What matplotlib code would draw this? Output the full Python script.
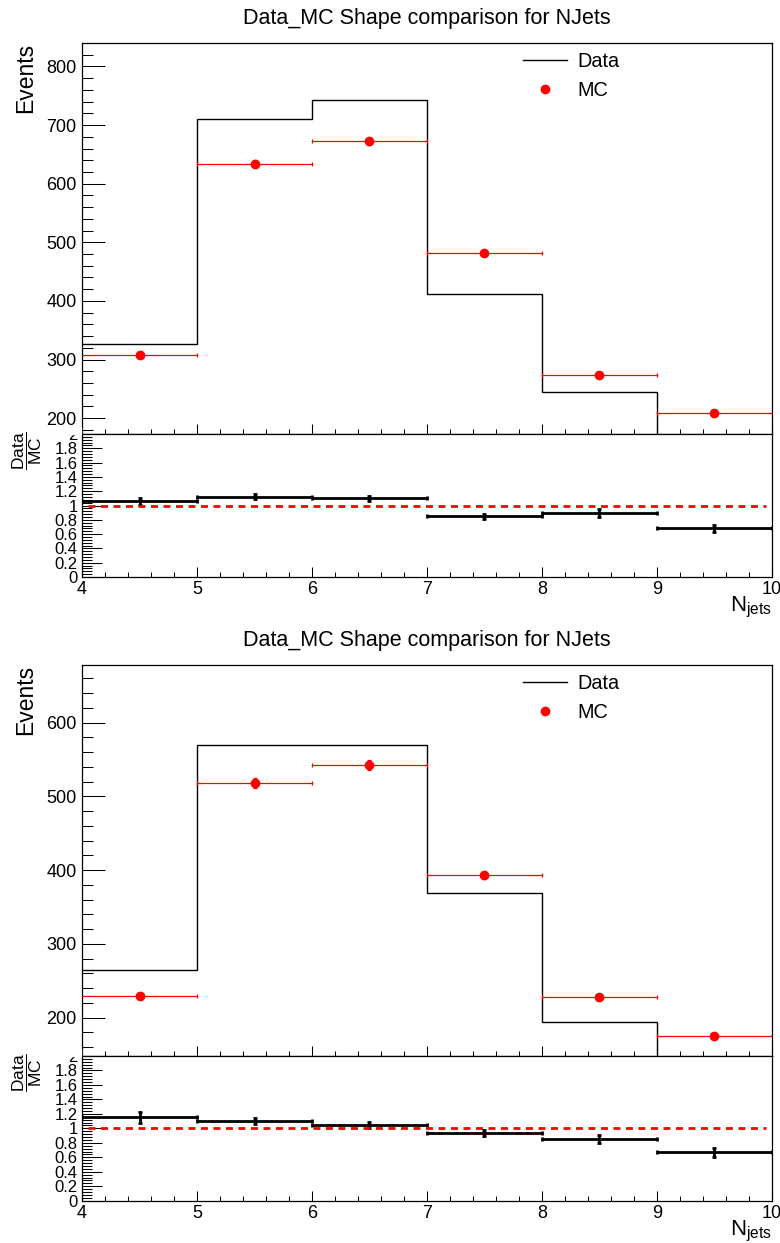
import matplotlib
matplotlib.use("Agg")
import matplotlib.pyplot as plt
import numpy as np
from matplotlib.ticker import MultipleLocator, FuncFormatter
from matplotlib.lines import Line2D
from matplotlib.patches import Rectangle

plt.rcParams['font.family'] = ['Liberation Sans', 'DejaVu Sans']
plt.rcParams['mathtext.default'] = 'regular'

# NJets bins
edges = [4, 5, 6, 7, 8, 9, 10]
title = "Data_MC Shape comparison for NJets"

# first selection
data_a = [327, 711, 742, 411, 245, 142]
mc_a = [308, 634, 672, 482, 274, 209]
mc_err_a = [4, 6, 6, 5, 4, 3]
ratio_err_a = [0.05, 0.035, 0.035, 0.035, 0.05, 0.05]
ylim_a = (173, 840)

# second selection
data_b = [264, 570, 569, 369, 194.6, 117]
mc_b = [229, 517.6, 542, 393, 227.6, 175]
mc_err_b = [4, 7, 7, 5, 4, 3]
ratio_err_b = [0.075, 0.045, 0.04, 0.04, 0.055, 0.06]
ylim_b = (148, 678)

W, H = 780, 1243
fig = plt.figure(figsize=(W / 100, H / 100), dpi=100)

L = 82 / W
AW = 690 / W


def px(y):
    # pixel row -> figure fraction
    return 1 - y / H


def panel(top, main_h, ratio_h, data, mc, mc_err, ratio_err, ylim):
    centers = [(edges[i] + edges[i + 1]) / 2 for i in range(len(edges) - 1)]
    ratio = np.array(data) / np.array(mc)

    ax = fig.add_axes([L, px(top + main_h), AW, main_h / H])
    rx = fig.add_axes([L, px(top + main_h + ratio_h), AW, ratio_h / H])

    ax.stairs(data, edges, baseline=None, color='black', lw=1.0)
    ax.errorbar(centers, mc, xerr=0.5, yerr=mc_err, fmt='o', color='red',
                ms=6, lw=0.9, capsize=1.5, capthick=0.9)
    ax.set_xlim(4, 10)
    ax.set_ylim(*ylim)
    ax.set_title(title, fontsize=15.5, pad=14)

    ax.yaxis.set_major_locator(MultipleLocator(100))
    ax.yaxis.set_minor_locator(MultipleLocator(20))
    ax.xaxis.set_major_locator(MultipleLocator(1))
    ax.xaxis.set_minor_locator(MultipleLocator(0.2))
    ax.tick_params(axis='both', which='both', direction='in', top=False,
                   right=False, width=0.75, labelsize=13)
    ax.tick_params(axis='y', which='major', length=16.5, pad=4)
    ax.tick_params(axis='y', which='minor', length=8)
    ax.tick_params(axis='x', which='major', length=7)
    ax.tick_params(axis='x', which='minor', length=3.5)
    ax.tick_params(axis='x', labelbottom=False)

    handles = [Line2D([], [], color='black', lw=1.0),
               Line2D([], [], color='red', marker='o', ms=6, ls='none')]
    ax.legend(handles, ['Data', 'MC'], frameon=False, fontsize=14.3,
              handlelength=2.2, handletextpad=0.55, labelspacing=0.5,
              borderpad=0, borderaxespad=0, loc='upper left',
              bbox_to_anchor=((523 - 82) / 690, 1 - 9 / main_h))

    fig.text(26 / W, px(top), 'Events', rotation=90, ha='center', va='top',
             fontsize=16.5)

    # ratio pad
    rx.errorbar(centers, ratio, xerr=0.5, yerr=ratio_err, fmt='none',
                ecolor='black', lw=2.0, capsize=1.5, capthick=2.0)
    rx.plot([4.05, 9.95], [1, 1], color='red', ls=(0, (2.5, 2.0)), lw=2.0)
    rx.set_xlim(4, 10)
    rx.set_ylim(0, 2)
    rx.yaxis.set_major_locator(MultipleLocator(0.2))
    rx.yaxis.set_minor_locator(MultipleLocator(0.04))
    rx.yaxis.set_major_formatter(FuncFormatter(lambda v, p: '%g' % round(v, 1)))
    rx.xaxis.set_major_locator(MultipleLocator(1))
    rx.xaxis.set_minor_locator(MultipleLocator(0.2))
    rx.tick_params(axis='both', which='both', direction='in', top=False,
                   right=False, width=0.75, labelsize=12)
    rx.tick_params(axis='x', labelsize=13)
    rx.tick_params(axis='y', which='major', length=14.4, pad=3)
    rx.tick_params(axis='y', which='minor', length=7)
    rx.tick_params(axis='x', which='major', length=7, pad=3)
    rx.tick_params(axis='x', which='minor', length=3.5)

    rx.text(1.0, -18 / ratio_h, r'$N_{jets}$', transform=rx.transAxes,
            ha='right', va='top', fontsize=16)
    fig.text(27 / W, px(top + main_h + 17), r'$\dfrac{Data}{MC}$',
             rotation=90, ha='center', va='center', fontsize=12.5)

    for a in (ax, rx):
        for s in a.spines.values():
            s.set_linewidth(0.9)

    # main pad hides the top half of the ratio's "2" label
    fig.add_artist(Rectangle((40 / W, px(top + main_h - 0.5)), 41 / W, 7 / H,
                             transform=fig.transFigure, color='white',
                             zorder=5))


panel(43, 391, 143, data_a, mc_a, mc_err_a, ratio_err_a, ylim_a)
panel(665, 391, 144.7, data_b, mc_b, mc_err_b, ratio_err_b, ylim_b)

fig.savefig('out.png', dpi=100)
